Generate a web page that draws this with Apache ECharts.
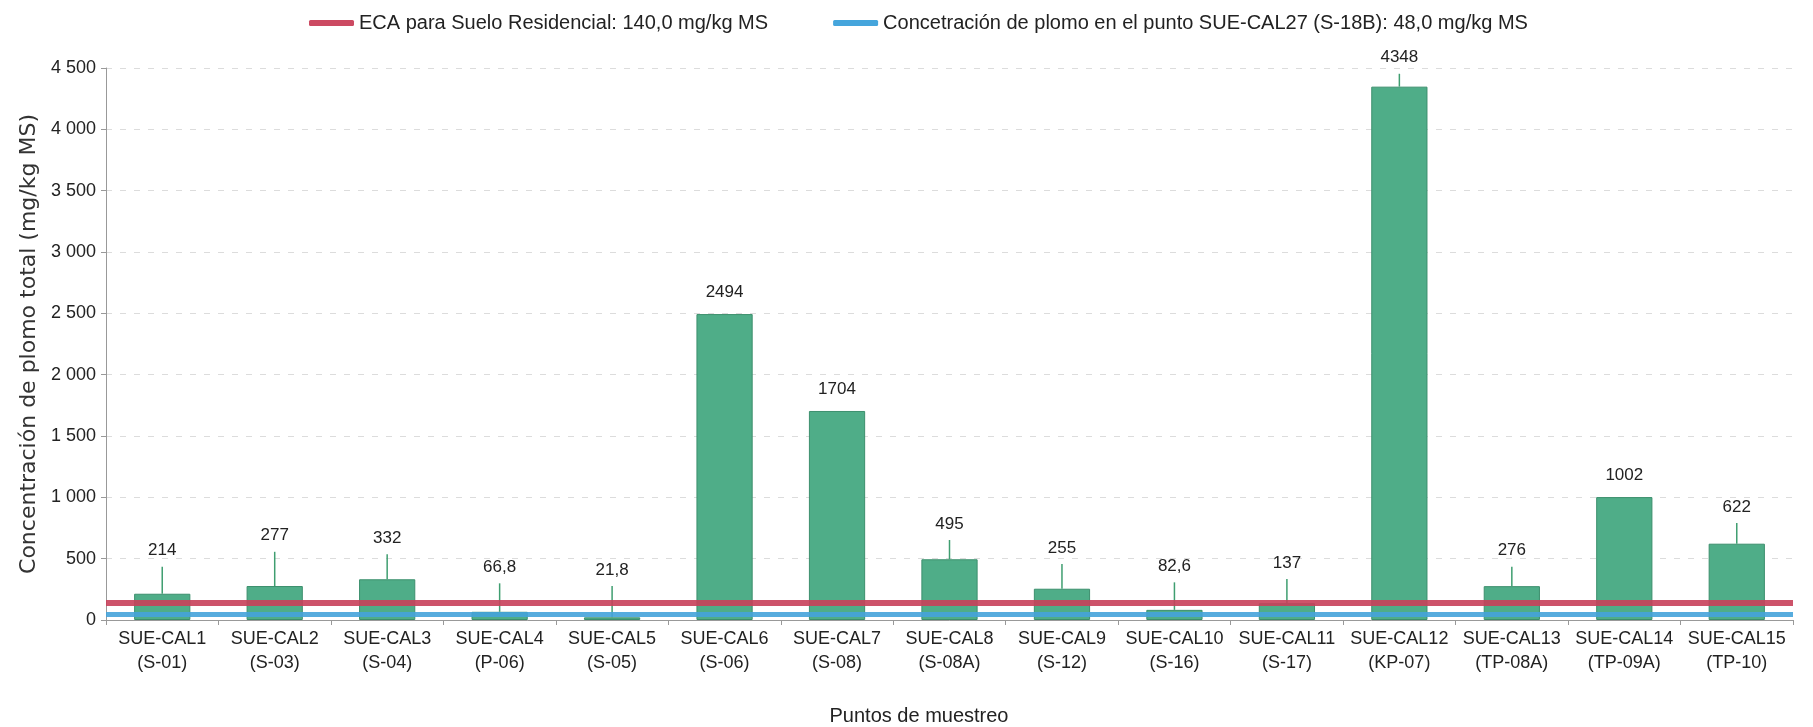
<!DOCTYPE html>
<html>
<head>
<meta charset="utf-8">
<script src="https://cdn.jsdelivr.net/npm/echarts@6/dist/echarts.min.js"></script>
<style>
html,body{margin:0;padding:0;background:#fff;}
#c{width:1813px;height:727px;}
</style>
</head>
<body>
<div id="c"></div>
<script>
const categories = [
  'SUE-CAL1\n(S-01)', 'SUE-CAL2\n(S-03)', 'SUE-CAL3\n(S-04)', 'SUE-CAL4\n(P-06)', 'SUE-CAL5\n(S-05)',
  'SUE-CAL6\n(S-06)', 'SUE-CAL7\n(S-08)', 'SUE-CAL8\n(S-08A)', 'SUE-CAL9\n(S-12)', 'SUE-CAL10\n(S-16)',
  'SUE-CAL11\n(S-17)', 'SUE-CAL12\n(KP-07)', 'SUE-CAL13\n(TP-08A)', 'SUE-CAL14\n(TP-09A)', 'SUE-CAL15\n(TP-10)'
];
const leadValues = [214, 277, 332, 66.8, 21.8, 2494, 1704, 495, 255, 82.6, 137, 4348, 276, 1002, 622];
// upper end of the error whisker (null = no whisker visible)
const whiskerTop = [434, 556, 537, 299, 277, null, null, 652, 456, 307, 334, 4453, 434, null, 790];
const ecaValue = 140;
const refValue = 48;
const ecaName = 'ECA para Suelo Residencial: 140,0 mg/kg MS';
const refName = 'Concetración de plomo en el punto SUE-CAL27 (S-18B): 48,0 mg/kg MS';
const yMin = 0, yMax = 4500, yStep = 500;

const SANS = '"Liberation Sans", Arial, sans-serif';

function fmtNum(v) { return String(v).replace('.', ','); }
function fmtTick(v) {
  const s = String(v);
  return s.length > 3 ? s.slice(0, s.length - 3) + ' ' + s.slice(-3) : s;
}

const errData = leadValues.map((v, i) => [i, v, whiskerTop[i] == null ? v : whiskerTop[i]]);

const chart = echarts.init(document.getElementById('c'), null, {renderer: 'canvas'});
chart.setOption({
  animation: false,
  backgroundColor: '#fff',
  legend: {
    top: 8,
    left: 304,
    itemGap: 65,
    icon: 'roundRect',
    itemWidth: 45,
    itemHeight: 6,
    textStyle: {fontFamily: SANS, fontSize: 20, color: '#222'},
    data: [ecaName, refName]
  },
  grid: {left: 106, right: 20, top: 68, bottom: 107, containLabel: false, outerBoundsMode: 'none'},
  xAxis: {
    type: 'category',
    data: categories,
    name: 'Puntos de muestreo',
    nameLocation: 'middle',
    nameGap: 86,
    nameTextStyle: {fontFamily: SANS, fontSize: 20, color: '#222', padding: [0, 61, 0, 0]},
    axisLine: {lineStyle: {color: '#999', width: 1}},
    axisTick: {show: true, length: 5, lineStyle: {color: '#999'}},
    axisLabel: {fontFamily: SANS, fontSize: 18, color: '#222', lineHeight: 24, margin: 7, interval: 0},
    splitLine: {show: false}
  },
  yAxis: {
    type: 'value',
    min: yMin, max: yMax, interval: yStep,
    name: 'Concentración de plomo total (mg/kg MS)',
    nameLocation: 'middle',
    nameGap: 66,
    nameRotate: 90,
    nameTextStyle: {fontFamily: '"DejaVu Sans", sans-serif', fontSize: 22, color: '#333'},
    axisLine: {show: true, lineStyle: {color: '#999', width: 1}},
    axisTick: {show: true, length: 5, lineStyle: {color: '#999'}},
    axisLabel: {fontFamily: SANS, fontSize: 18, color: '#222', margin: 10, formatter: fmtTick},
    splitLine: {show: true, lineStyle: {color: '#dcdcdc', type: [6, 8], width: 1}}
  },
  series: [
    {
      type: 'bar',
      data: leadValues,
      barWidth: '50%',
      itemStyle: {color: '#4fad88', borderColor: '#3c8f6d', borderWidth: 1},
      z: 2
    },
    {
      type: 'custom',
      data: errData,
      z: 3,
      renderItem: function (params, api) {
        const i = api.value(0), v = api.value(1), e = api.value(2);
        const p0 = api.coord([i, v]);
        const p1 = api.coord([i, e]);
        const has = e > v;
        const topY = Math.min(p0[1], p1[1]);
        const children = [];
        if (has) {
          children.push({
            type: 'line',
            shape: {x1: p0[0], y1: p0[1], x2: p1[0], y2: p1[1]},
            style: {stroke: '#3f9e70', lineWidth: 1.5}
          });
        }
        children.push({
          type: 'text',
          style: {
            x: p0[0], y: topY - (has ? 16 : 22),
            text: fmtNum(leadValues[i]),
            align: 'center', verticalAlign: 'middle',
            font: '17px ' + SANS,
            fill: '#222'
          }
        });
        return {type: 'group', children: children};
      }
    },
    {
      name: ecaName,
      type: 'line',
      data: [],
      z: 5,
      itemStyle: {color: '#cc4a62'},
      lineStyle: {color: '#cc4a62', width: 6},
      markLine: {
        silent: true,
        symbol: ['none', 'none'],
        label: {show: false},
        lineStyle: {color: '#c8405a', width: 6, type: 'solid', opacity: 0.9},
        data: [{yAxis: ecaValue}]
      }
    },
    {
      name: refName,
      type: 'line',
      data: [],
      z: 5,
      itemStyle: {color: '#45a5dc'},
      lineStyle: {color: '#45a5dc', width: 6},
      markLine: {
        silent: true,
        symbol: ['none', 'none'],
        label: {show: false},
        lineStyle: {color: '#45a3da', width: 5, type: 'solid', opacity: 0.9},
        data: [{yAxis: refValue}]
      }
    }
  ]
});
</script>
</body>
</html>
